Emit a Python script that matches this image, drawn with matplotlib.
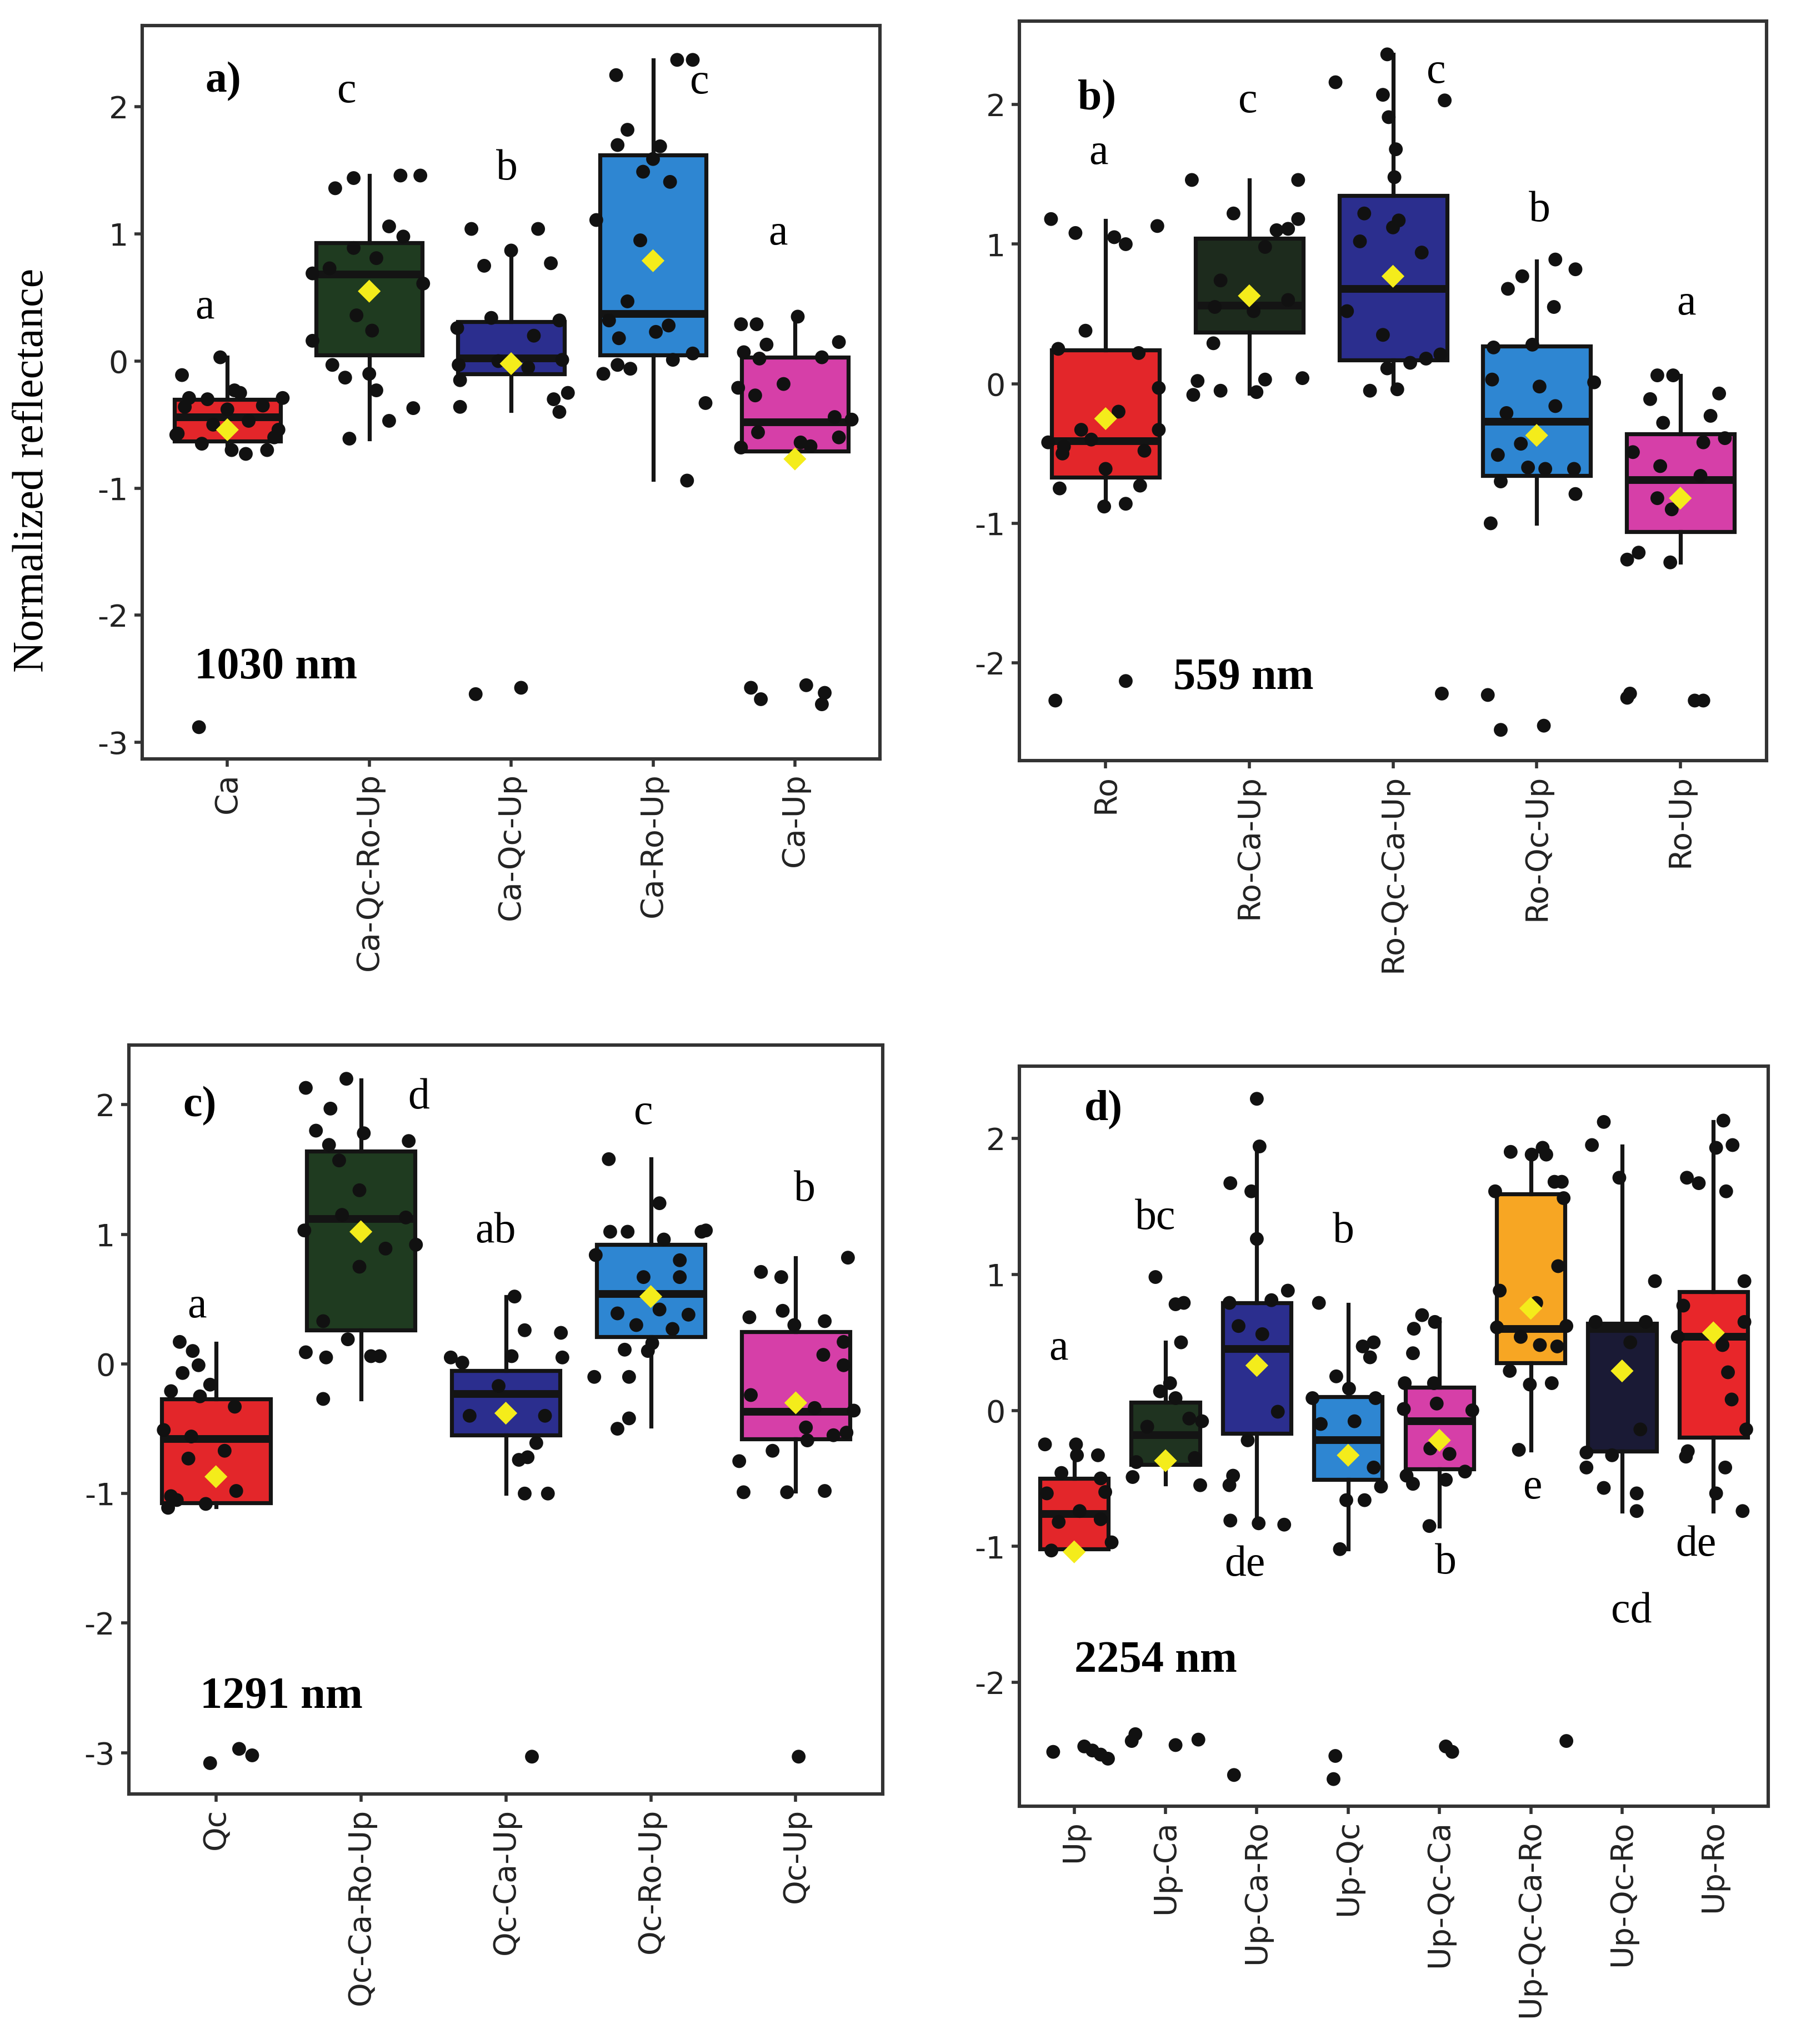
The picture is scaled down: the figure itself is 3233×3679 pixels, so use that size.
import matplotlib
matplotlib.use('Agg')
import matplotlib.pyplot as plt

SERIF = 'Liberation Serif'

# ---------------- panel a) 1030 nm ----------------
a_groups = ['Ca', 'Ca-Qc-Ro-Up', 'Ca-Qc-Up', 'Ca-Ro-Up', 'Ca-Up']
a_colors = ['#E3262A', '#1F3B20', '#2B2E8E', '#2E86D2', '#D63FA8']
a_q1 = [-0.63, 0.05, -0.10, 0.05, -0.71]
a_med = [-0.44, 0.68, 0.02, 0.37, -0.48]
a_q3 = [-0.30, 0.93, 0.31, 1.62, 0.03]
a_lo = [-0.70, -0.61, -0.39, -0.93, -0.72]
a_hi = [0.03, 1.46, 0.87, 2.37, 0.35]
a_mean = [-0.54, 0.55, -0.02, 0.79, -0.77]
a_dx = [
    [-0.05, -0.32, -0.27, -0.14, 0.05, 0.09, 0.39, -0.36, -0.18, 0.03, 0.13, 0.28, 0.36, -0.20,
     -0.30, 0.00, 0.25, -0.10, 0.15, 0.33, -0.35],
    [-0.24, -0.11, 0.22, 0.36, 0.14, 0.24, -0.40, 0.38, -0.40, -0.09, 0.02, -0.26, -0.17, 0.00,
     0.05, 0.14, 0.31, -0.14, -0.11, 0.05, -0.28],
    [-0.28, 0.19, -0.19, 0.28, 0.00, -0.14, 0.16, -0.38, 0.34, -0.37, -0.36, -0.36, 0.30, 0.34,
     0.40, 0.36, -0.25, 0.07, -0.09, 0.12],
    [-0.26, -0.18, -0.25, 0.05, 0.00, -0.07, 0.12, 0.17, 0.28, -0.40, -0.09, -0.18, -0.31, -0.24,
     0.02, 0.11, 0.14, 0.28, -0.35, -0.25, -0.16, 0.37, 0.24],
    [-0.38, -0.27, 0.02, -0.20, 0.31, -0.36, -0.25, 0.19, -0.40, -0.28, -0.08, -0.26, -0.38, 0.04,
     0.11, 0.28, 0.40, 0.31, -0.31, -0.24, 0.08, 0.21, 0.19],
]
a_y = [
    [0.03, -0.11, -0.29, -0.30, -0.23, -0.25, -0.29, -0.58, -0.65, -0.70, -0.73, -0.70, -0.54, -2.88,
     -0.36, -0.38, -0.35, -0.50, -0.47, -0.60, -0.57],
    [1.36, 1.44, 1.46, 1.46, 1.06, 0.98, 0.69, 0.61, 0.16, 0.36, 0.24, -0.03, -0.13, -0.10,
     -0.23, -0.47, -0.37, -0.61, 0.89, 0.81, 0.73],
    [1.04, 1.04, 0.75, 0.77, 0.87, 0.34, 0.20, 0.26, 0.32, -0.03, -0.15, -0.36, -0.30, -0.40,
     -0.25, 0.01, -2.62, -2.57, 0.00, -0.05],
    [2.25, 1.82, 1.70, 1.69, 1.59, 1.49, 1.41, 2.37, 2.37, 1.11, 0.95, 0.47, 0.32, 0.18,
     0.23, 0.28, 0.01, 0.06, -0.10, -0.03, -0.06, -0.33, -0.94],
    [0.29, 0.29, 0.35, 0.13, 0.15, 0.07, 0.02, 0.03, -0.21, -0.27, -0.18, -0.56, -0.68, -0.64,
     -0.67, -0.44, -0.46, -0.60, -2.57, -2.66, -2.55, -2.61, -2.70],
]
a_letters = ['a', 'c', 'b', 'c', 'a']
a_let_x = [0.84, 1.84, 2.97, 4.33, 4.88]
a_let_y = [0.42, 2.12, 1.51, 2.19, 1.00]

# ---------------- panel b) 559 nm ----------------
b_groups = ['Ro', 'Ro-Ca-Up', 'Ro-Qc-Ca-Up', 'Ro-Qc-Up', 'Ro-Up']
b_colors = ['#E3262A', '#1D2B1D', '#2B2E8E', '#2E86D2', '#D63FA8']
b_q1 = [-0.67, 0.37, 0.17, -0.66, -1.06]
b_med = [-0.41, 0.56, 0.68, -0.27, -0.69]
b_q3 = [0.24, 1.04, 1.35, 0.27, -0.36]
b_lo = [-0.89, -0.07, -0.04, -1.00, -1.28]
b_hi = [1.17, 1.46, 2.36, 0.88, 0.06]
b_mean = [-0.25, 0.63, 0.77, -0.37, -0.82]
b_dx = [
    [-0.38, -0.21, 0.06, 0.14, 0.36, -0.14, -0.33, 0.23, 0.37, 0.09, 0.37, -0.17, -0.40, -0.30,
     0.27, 0.00, -0.32, 0.24, -0.01, 0.14, -0.35, 0.14, -0.29, -0.10],
    [-0.40, 0.34, -0.11, 0.34, 0.27, 0.19, -0.25, -0.36, -0.39, -0.20, 0.05, 0.11, 0.37, 0.11,
     -0.20, 0.27, 0.03, -0.24],
    [-0.04, -0.40, -0.07, 0.36, -0.03, 0.02, 0.01, -0.20, 0.04, 0.00, -0.23, 0.20, -0.32, -0.07,
     -0.04, 0.12, 0.23, 0.33, -0.16, 0.03, 0.34],
    [0.13, 0.27, -0.10, -0.20, 0.12, -0.30, -0.03, -0.31, 0.02, 0.40, 0.13, -0.21, -0.11, -0.27,
     -0.06, 0.06, 0.26, -0.25, 0.27, -0.32, -0.34, -0.25, 0.05],
    [-0.16, -0.05, 0.27, -0.21, 0.21, -0.12, -0.33, 0.31, 0.16, -0.14, -0.16, -0.06, 0.14, -0.37,
     -0.29, -0.07, -0.37, -0.35, 0.10, 0.16],
]
b_y = [
    [1.18, 1.08, 1.05, 1.00, 1.13, 0.38, 0.25, 0.22, -0.03, -0.20, -0.33, -0.33, -0.42, -0.50,
     -0.48, -0.61, -0.75, -0.73, -0.88, -0.86, -2.27, -2.13, -0.45, -0.40],
    [1.46, 1.46, 1.22, 1.18, 1.11, 1.10, 0.29, 0.02, -0.08, -0.05, -0.06, 0.03, 0.04, 0.98,
     0.74, 0.60, 0.52, 0.55],
    [2.36, 2.16, 2.07, 2.03, 1.91, 1.68, 1.48, 1.22, 1.17, 1.12, 1.02, 0.94, 0.52, 0.35,
     0.11, 0.15, 0.18, 0.21, -0.05, -0.04, -2.22],
    [0.89, 0.82, 0.77, 0.68, 0.55, 0.26, 0.28, 0.03, -0.02, 0.01, -0.16, -0.21, -0.43, -0.51,
     -0.60, -0.61, -0.61, -0.70, -0.79, -1.00, -2.23, -2.48, -2.45],
    [0.06, 0.06, -0.07, -0.11, -0.23, -0.28, -0.49, -0.39, -0.42, -0.59, -0.82, -0.90, -0.66, -1.26,
     -1.21, -1.28, -2.25, -2.22, -2.27, -2.27],
]
b_letters = ['a', 'c', 'c', 'b', 'a']
b_let_x = [0.95, 1.99, 3.30, 4.02, 5.04]
b_let_y = [1.65, 2.02, 2.23, 1.24, 0.57]

# ---------------- panel c) 1291 nm ----------------
c_groups = ['Qc', 'Qc-Ca-Ro-Up', 'Qc-Ca-Up', 'Qc-Ro-Up', 'Qc-Up']
c_colors = ['#E3262A', '#1F3B20', '#2B2E8E', '#2E86D2', '#D63FA8']
c_q1 = [-1.07, 0.26, -0.55, 0.21, -0.58]
c_med = [-0.58, 1.12, -0.23, 0.54, -0.37]
c_q3 = [-0.27, 1.64, -0.05, 0.92, 0.25]
c_lo = [-1.10, -0.27, -1.00, -0.48, -0.98]
c_hi = [0.16, 2.19, 0.52, 1.58, 0.82]
c_mean = [-0.87, 1.02, -0.38, 0.52, -0.30]
c_dx = [
    [-0.25, -0.16, -0.12, -0.23, -0.31, -0.04, 0.13, -0.36, -0.17, 0.06, -0.19, 0.14, -0.07, -0.27,
     -0.33, -0.31, -0.04, 0.16, 0.25, -0.11],
    [-0.38, -0.10, -0.21, -0.31, 0.02, 0.33, -0.22, -0.15, -0.01, -0.39, 0.38, 0.17, -0.01, -0.26,
     -0.09, -0.38, -0.24, 0.07, 0.13, -0.26, -0.13, 0.31],
    [0.06, 0.13, 0.38, -0.38, -0.30, 0.04, 0.39, -0.25, 0.21, 0.15, 0.09, 0.13, 0.29, 0.18,
     -0.05, 0.27],
    [-0.29, 0.06, -0.28, -0.16, 0.35, 0.38, -0.38, 0.09, 0.20, 0.20, -0.23, 0.06, 0.26, -0.10,
     0.15, 0.01, -0.02, -0.18, -0.39, -0.15, -0.15, -0.23, -0.05],
    [0.36, -0.24, -0.10, -0.32, -0.09, 0.20, -0.01, 0.33, 0.19, 0.33, -0.31, 0.40, 0.13, 0.07,
     0.08, 0.35, 0.26, -0.39, -0.16, -0.36, -0.06, 0.20, 0.02],
]
c_y = [
    [0.17, 0.10, -0.01, -0.07, -0.21, -0.16, -0.33, -0.51, -0.56, -0.67, -0.73, -0.98, -1.08, -1.05,
     -1.11, -1.02, -3.08, -2.97, -3.02, -0.25],
    [2.13, 2.20, 1.97, 1.80, 1.78, 1.72, 1.69, 1.57, 1.34, 1.03, 0.92, 0.89, 0.75, 0.33,
     0.19, 0.09, 0.05, 0.06, 0.06, -0.27, 1.15, 1.13],
    [0.52, 0.26, 0.24, 0.05, 0.01, 0.06, 0.05, -0.40, -0.61, -0.72, -0.74, -1.00, -1.00, -3.03,
     -0.17, -0.40],
    [1.58, 1.24, 1.02, 1.02, 1.02, 1.03, 0.84, 0.96, 0.80, 0.67, 0.39, 0.42, 0.38, 0.30,
     0.27, 0.16, 0.10, 0.11, -0.10, -0.10, -0.42, -0.50, 0.67],
    [0.82, 0.71, 0.67, 0.36, 0.41, 0.33, 0.30, 0.17, 0.07, -0.01, -0.24, -0.36, -0.34, -0.49,
     -0.59, -0.53, -0.55, -0.75, -0.67, -0.99, -0.99, -0.98, -3.03],
]
c_letters = ['a', 'd', 'ab', 'c', 'b']
c_let_x = [0.87, 2.40, 2.93, 3.95, 5.06]
c_let_y = [0.44, 2.05, 1.02, 1.93, 1.34]

# ---------------- panel d) 2254 nm ----------------
d_groups = ['Up', 'Up-Ca', 'Up-Ca-Ro', 'Up-Qc', 'Up-Qc-Ca', 'Up-Qc-Ca-Ro', 'Up-Qc-Ro', 'Up-Ro']
d_colors = ['#E3262A', '#1F3320', '#2B2E8E', '#2E86D2', '#D63FA8', '#F7A623', '#1A1A35', '#E8262A']
d_q1 = [-1.02, -0.40, -0.17, -0.51, -0.43, 0.35, -0.30, -0.20]
d_med = [-0.76, -0.18, 0.45, -0.22, -0.08, 0.60, 0.60, 0.54]
d_q3 = [-0.50, 0.06, 0.79, 0.10, 0.17, 1.59, 0.64, 0.87]
d_lo = [-1.03, -0.54, -0.83, -1.02, -0.85, -0.29, -0.74, -0.74]
d_hi = [-0.25, 0.50, 1.94, 0.78, 0.67, 1.90, 1.94, 2.12]
d_mean = [-1.04, -0.37, 0.33, -0.33, -0.22, 0.75, 0.29, 0.57]
d_dx = [
    [-0.32, 0.02, 0.03, 0.26, -0.14, 0.29, -0.30, 0.06, 0.29, 0.41, -0.25, -0.23, 0.11, 0.20,
     0.29, 0.37, -0.17, 0.34],
    [-0.11, 0.11, 0.20, 0.17, 0.05, -0.06, 0.11, 0.40, -0.36, 0.38, -0.20, 0.26, -0.37, -0.33,
     0.11, 0.36, -0.32, 0.32],
    [0.00, 0.03, -0.29, -0.06, 0.00, 0.34, 0.16, -0.30, 0.06, -0.20, 0.23, -0.10, -0.26, -0.30,
     -0.29, 0.02, 0.30, -0.25],
    [-0.32, 0.16, 0.28, 0.24, -0.13, 0.01, -0.39, 0.30, 0.07, -0.30, 0.28, 0.36, -0.02, 0.18,
     -0.09, -0.14, -0.16],
    [-0.19, -0.05, -0.28, -0.29, -0.38, -0.06, -0.03, -0.39, 0.36, -0.10, 0.11, -0.36, -0.29, 0.07,
     0.28, -0.11, 0.07, 0.14],
    [-0.22, 0.01, 0.13, 0.17, 0.26, 0.34, -0.39, 0.36, 0.30, -0.34, 0.06, -0.37, 0.39, -0.11,
     0.10, 0.29, -0.23, -0.01, 0.23, -0.13, 0.39],
    [-0.20, -0.33, -0.03, 0.36, -0.29, 0.26, -0.39, -0.39, -0.11, -0.20, 0.16, 0.16, 0.09, 0.20],
    [0.11, 0.21, 0.03, -0.29, -0.16, 0.14, 0.34, -0.33, 0.34, -0.39, 0.10, 0.16, 0.20, 0.36,
     -0.28, -0.30, 0.13, 0.03, 0.32],
]
d_y = [
    [-0.25, -0.25, -0.33, -0.33, -0.46, -0.50, -0.61, -0.74, -0.80, -0.97, -1.03, -2.51, -2.47, -2.50,
     -2.53, -2.56, -0.82, -0.60],
    [0.98, 0.78, 0.79, 0.50, 0.20, 0.14, 0.09, -0.08, -0.49, -0.55, -0.12, -0.06, -2.43, -2.38,
     -2.46, -2.42, -0.38, -0.35],
    [2.29, 1.94, 1.67, 1.61, 1.26, 0.88, 0.81, 0.79, 0.56, 0.62, -0.01, -0.22, -0.48, -0.55,
     -0.81, -0.83, -0.84, -2.68],
    [0.79, 0.47, 0.50, 0.39, 0.25, 0.16, 0.09, 0.09, -0.08, -0.10, -0.42, -0.56, -0.66, -0.66,
     -1.02, -2.54, -2.71],
    [0.70, 0.65, 0.60, 0.42, 0.20, 0.20, 0.05, 0.01, 0.00, -0.28, -0.32, -0.48, -0.54, -0.51,
     -0.45, -0.85, -2.47, -2.51],
    [1.90, 1.88, 1.93, 1.88, 1.68, 1.68, 1.61, 1.56, 1.06, 0.88, 0.79, 0.61, 0.62, 0.54,
     0.48, 0.47, 0.29, 0.19, 0.20, -0.29, -2.43],
    [2.12, 1.95, 1.71, 0.95, 0.65, 0.65, -0.31, -0.42, -0.33, -0.57, -0.61, -0.74, 0.50, -0.14],
    [2.13, 1.95, 1.93, 1.71, 1.67, 1.61, 0.95, 0.77, 0.65, 0.54, 0.48, 0.28, 0.08, -0.14,
     -0.30, -0.34, -0.42, -0.61, -0.74],
]
d_letters = ['a', 'bc', 'de', 'b', 'b', 'e', 'cd', 'de']
d_let_x = [0.83, 1.89, 2.87, 3.95, 5.07, 6.02, 7.10, 7.81]
d_let_y = [0.45, 1.41, -1.14, 1.31, -1.12, -0.57, -1.48, -0.99]


def panel(ax, groups, colors, q1, med, q3, lo, hi, mean, dx, ys,
          letters, let_x, let_y, ylim, yticks, tag, tag_xy, nm, nm_xy):
    n = len(groups)
    pos = list(range(1, n + 1))
    stats = [dict(med=med[i], q1=q1[i], q3=q3[i], whislo=lo[i], whishi=hi[i],
                  fliers=[], label=groups[i]) for i in range(n)]
    bp = ax.bxp(stats, positions=pos, widths=0.75, showcaps=False, showfliers=False,
                patch_artist=True,
                boxprops=dict(linewidth=2.6, edgecolor='#141414'),
                whiskerprops=dict(linewidth=2.6, color='#141414'),
                medianprops=dict(linewidth=5.0, color='#141414'))
    for patch, col in zip(bp['boxes'], colors):
        patch.set_facecolor(col)
    for i in range(n):
        xs = [pos[i] + d for d in dx[i]]
        ax.scatter(xs, ys[i], s=80, color='#111111', edgecolors='none', zorder=4)
    ax.scatter(pos, mean, marker='D', s=110, color='#F4EC1B', edgecolors='none', zorder=5)

    for lab, lx, ly in zip(letters, let_x, let_y):
        ax.text(lx, ly, lab, family=SERIF, fontsize=28, ha='center', va='center')
    ax.text(tag_xy[0], tag_xy[1], tag, family=SERIF, fontsize=28, fontweight='bold',
            ha='center', va='center')
    ax.text(nm_xy[0], nm_xy[1], nm, family=SERIF, fontsize=29, fontweight='bold',
            ha='center', va='center')

    ax.set_xlim(0.4, n + 0.6)
    ax.set_ylim(*ylim)
    ax.set_yticks(yticks)
    ax.set_yticklabels([str(t) for t in yticks])
    ax.set_xticks(pos)
    ax.set_xticklabels(groups, rotation=90)
    ax.tick_params(axis='both', direction='out', length=5, width=2, color='#333333',
                   labelsize=20, labelcolor='#222222', pad=4)
    for sp in ax.spines.values():
        sp.set_color('#333333')
        sp.set_linewidth(2.2)


fig = plt.figure(figsize=(3233 / 200, 3679 / 200), dpi=200)
ax_a = fig.add_axes([0.0792, 0.6287, 0.4108, 0.3588])
ax_b = fig.add_axes([0.5676, 0.6279, 0.4160, 0.3619])
ax_c = fig.add_axes([0.0718, 0.1222, 0.4197, 0.3665])
ax_d = fig.add_axes([0.5676, 0.1163, 0.4169, 0.3621])

panel(ax_a, a_groups, a_colors, a_q1, a_med, a_q3, a_lo, a_hi, a_mean, a_dx, a_y,
      a_letters, a_let_x, a_let_y, (-3.13, 2.64), [-3, -2, -1, 0, 1, 2],
      'a)', (0.97, 2.20), '1030 nm', (1.34, -2.41))
panel(ax_b, b_groups, b_colors, b_q1, b_med, b_q3, b_lo, b_hi, b_mean, b_dx, b_y,
      b_letters, b_let_x, b_let_y, (-2.70, 2.60), [-2, -1, 0, 1, 2],
      'b)', (0.94, 2.04), '559 nm', (1.96, -2.11))
panel(ax_c, c_groups, c_colors, c_q1, c_med, c_q3, c_lo, c_hi, c_mean, c_dx, c_y,
      c_letters, c_let_x, c_let_y, (-3.32, 2.46), [-3, -2, -1, 0, 1, 2],
      'c)', (0.89, 1.99), '1291 nm', (1.45, -2.57))
panel(ax_d, d_groups, d_colors, d_q1, d_med, d_q3, d_lo, d_hi, d_mean, d_dx, d_y,
      d_letters, d_let_x, d_let_y, (-2.91, 2.53), [-2, -1, 0, 1, 2],
      'd)', (1.32, 2.21), '2254 nm', (1.89, -1.84))

fig.text(0.018, 0.77, 'Normalized reflectance', family=SERIF, fontsize=28,
         rotation=90, ha='center', va='center')

fig.savefig('out.png', dpi=200, facecolor='white')
